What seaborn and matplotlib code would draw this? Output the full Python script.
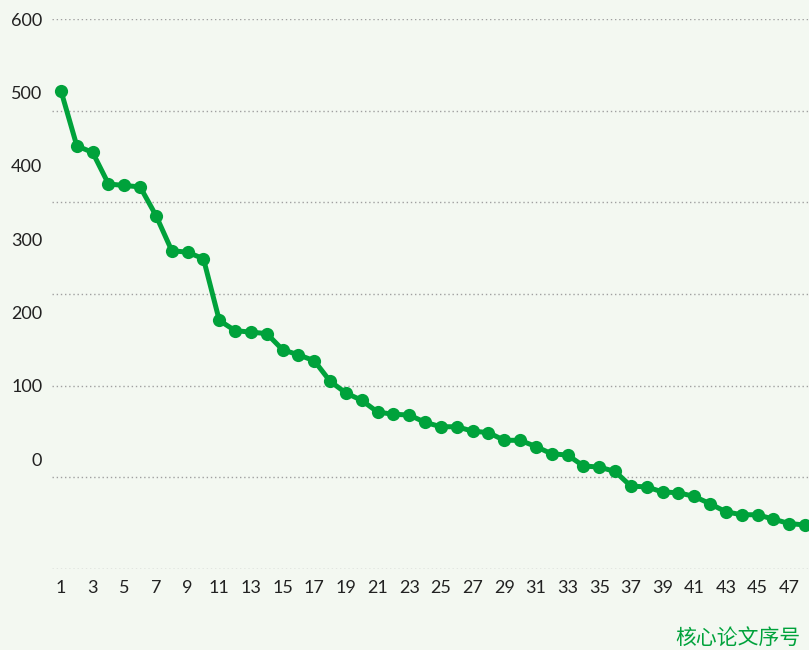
import matplotlib
matplotlib.use("Agg")
import matplotlib.pyplot as plt
import seaborn as sns
import pandas as pd
import numpy as np

paper_index = list(range(1, 49))
citations = [502, 427, 418, 375, 373, 371, 332, 284, 282, 273,
             189, 175, 173, 171, 149, 142, 134, 106, 90, 80,
             64, 61, 60, 50, 44, 44, 38, 36, 25.5, 25.5,
             17, 7, 5.5, -9.5, -11, -17, -37, -38, -45, -46,
             -51, -61, -72, -76, -76, -82, -88, -90]
y_labels = [0, 100, 200, 300, 400, 500, 600]
grid_levels = [600, 475, 350, 225, 100, -25, -150]
x_labels = list(range(1, 48, 2))
x_title = "核心论文序号"

green = "#00a23b"
bg = "#f3f8f1"

sns.set_theme(style="white")
plt.rcParams['font.family'] = ['Lato', 'Noto Sans CJK SC', 'DejaVu Sans']

df = pd.DataFrame({"idx": paper_index, "val": citations})

fig = plt.figure(figsize=(8.09, 6.5), dpi=100, facecolor=bg)
ax = fig.add_axes([52 / 809, 81 / 650, 757 / 809, 550 / 650])
ax.set_facecolor(bg)

sns.lineplot(data=df, x="idx", y="val", ax=ax, color=green, linewidth=3.6,
             marker="o", markersize=9.5, markeredgewidth=0, zorder=3)

ax.set_xlim(1 - 9 / 15.83, 48 + 4 / 15.83)
ax.set_ylim(-150, 600)

ax.yaxis.remove_overlapping_locs = False
# gridlines (major, unlabeled)
ax.set_yticks(grid_levels)
ax.set_yticklabels([])
ax.yaxis.grid(True, which="major", color="#a0a0a0", linestyle=(0, (1, 2)), linewidth=1.0)
ax.set_axisbelow(True)
# labels (minor)
ax.set_yticks(y_labels, minor=True)
ax.set_yticklabels([str(v) for v in y_labels], minor=True)
ax.tick_params(axis="y", which="both", length=0, pad=7, labelsize=13, labelcolor="#222222")

ax.set_xticks(x_labels)
ax.set_xticklabels([str(v) for v in x_labels])
ax.tick_params(axis="x", length=0, pad=8, labelsize=13, labelcolor="#222222")
ax.xaxis.grid(False)

ax.set_xlabel("")
ax.set_ylabel("")
for s in ax.spines.values():
    s.set_visible(False)

fig.text(801 / 809, 1 - 638 / 650, x_title, color=green, fontsize=15,
         ha="right", va="center", family=['Noto Sans CJK SC', 'DejaVu Sans'])

fig.savefig("out.png", dpi=100, facecolor=bg)
